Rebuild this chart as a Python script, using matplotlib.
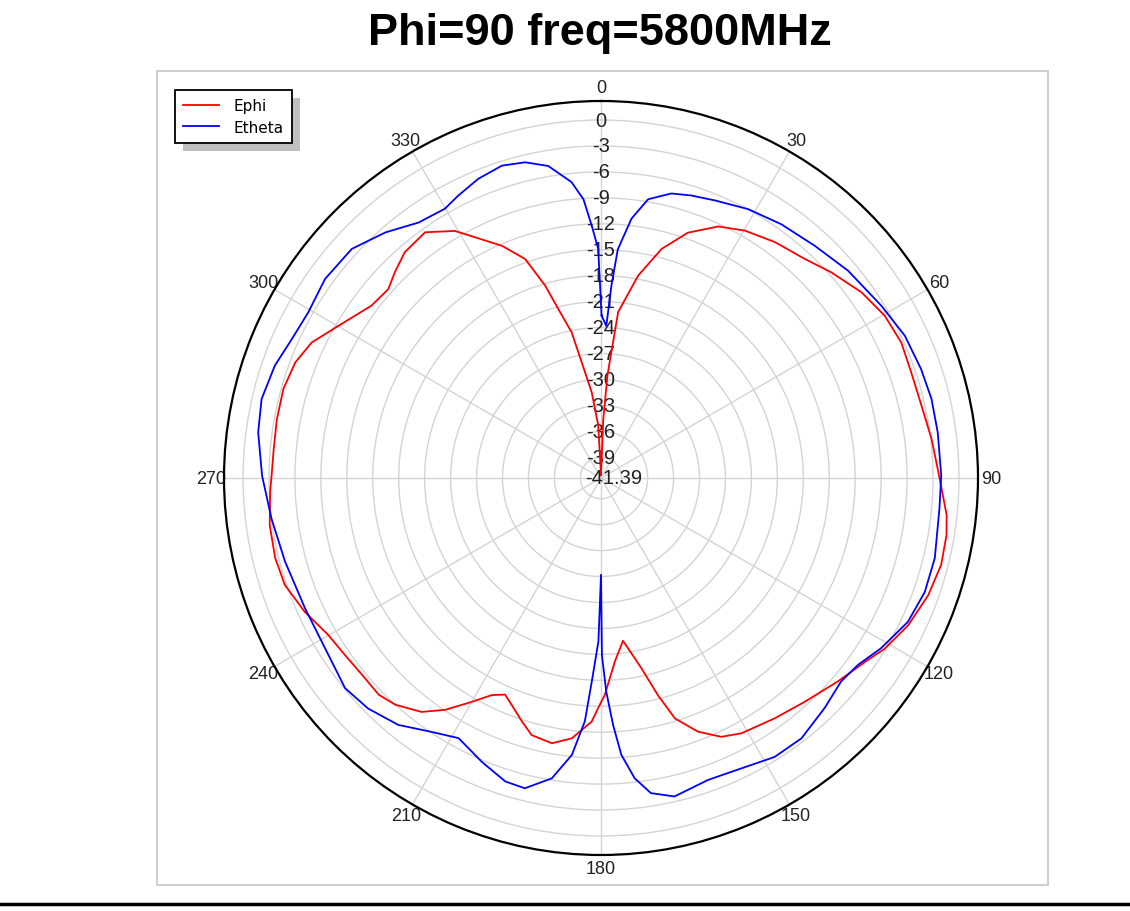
import numpy as np
import matplotlib
matplotlib.use('Agg')
import matplotlib.pyplot as plt
from matplotlib.patches import Rectangle
from matplotlib.lines import Line2D
import matplotlib.transforms as mtransforms

title = "Phi=90 freq=5800MHz"
series_names = ["Ephi", "Etheta"]
series_colors = ["#ff0000", "#0000ff"]

ephi_angle = [0, 2.2, 3.6, 5.9, 10.4, 14.8, 19.5, 25.0, 30.2, 36.4, 42.9, 48.2, 54.5, 60.2,
              65.7, 71.2, 77.3, 83.3, 89.6, 96.1, 99.4, 104.3, 109.7, 115.6, 121.0, 124.9,
              130.7, 137.7, 144.1, 151.2, 155.1, 159.1, 162.9, 165.3, 168.0, 172.3, 175.7,
              179.0, 180.7, 182.2, 186.4, 190.5, 195.1, 198.0, 201.5, 203.9, 206.7, 210.0,
              213.9, 217.5, 222.2, 225.7, 230.5, 235.3, 240.1, 245.7, 251.3, 256.2, 261.9,
              267.6, 270.4, 275.1, 280.3, 285.7, 290.7, 295.1, 300.1, 306.9, 311.6, 315.0,
              319.0, 324.4, 329.4, 336.9, 340.9, 343.8, 345.8, 348.6, 350.5, 353.8, 357.0, 360]
ephi_db = [-41.0, -34.6, -29.5, -22.1, -17.6, -14.0, -11.3, -9.3, -8.3, -7.5, -6.8, -5.7, -4.4,
           -3.6, -3.3, -3.5, -3.4, -2.9, -2.3, -1.2, -0.9, -0.8, -1.2, -2.0, -3.1, -4.2, -5.3,
           -6.4, -7.1, -7.7, -8.4, -10.0, -12.3, -15.4, -18.9, -22.4, -20.1, -16.3, -14.8,
           -13.2, -11.1, -10.2, -10.6, -11.8, -13.2, -14.0, -13.3, -11.5, -9.1, -7.3, -6.0,
           -5.5, -5.6, -5.4, -5.0, -3.8, -2.8, -2.6, -2.7, -3.1, -3.3, -3.4, -3.3, -3.25,
           -3.6, -4.45, -6.3, -8.2, -8.5, -7.7, -6.8, -6.45, -8.2, -12.2, -14.6, -18.2,
           -21.2, -24.2, -27.8, -31.4, -35.3, -41.0]

etheta_angle = [0.2, 2.0, 3.1, 4.2, 6.7, 9.6, 13.9, 17.7, 22.3, 28.7, 35.4, 42.6, 50.0, 58.4,
                64.9, 71.2, 76.5, 82.3, 89.6, 95.1, 103.5, 109.4, 115.1, 121.3, 126.0, 130.3,
                135.8, 142.4, 148.1, 154.2, 160.5, 167.0, 171.0, 173.6, 175.8, 177.2, 178.6,
                179.7, 180.0, 180.9, 182.6, 183.8, 186.0, 189.3, 193.8, 197.5, 202.8, 208.7,
                213.7, 219.4, 225.3, 230.6, 238.3, 246.2, 255.2, 263.0, 270.4, 277.6, 283.1,
                289.0, 294.2, 299.5, 305.8, 312.6, 318.7, 324.5, 329.9, 333.2, 337.7, 342.4,
                346.5, 350.4, 354.3, 356.4, 357.9, 359.3]
etheta_db = [-22.6, -23.8, -19.1, -14.9, -11.2, -8.7, -7.5, -7.1, -6.7, -5.95, -5.4, -4.9,
             -4.1, -3.35, -2.6, -2.3, -2.1, -2.1, -2.05, -2.1, -1.7, -1.7, -2.2, -3.5, -4.65,
             -5.0, -4.3, -3.4, -3.4, -4.1, -4.35, -3.6, -4.5, -6.45, -9.3, -12.8, -16.7, -20.9,
             -30.2, -22.5, -17.8, -13.2, -9.2, -6.2, -4.45, -4.6, -5.8, -7.1, -6.1, -4.45,
             -3.5, -3.1, -3.9, -4.0, -3.6, -3.0, -2.2, -1.4, -1.1, -1.5, -2.2, -2.5, -2.05,
             -2.25, -3.6, -5.1, -5.4, -4.8, -4.0, -3.5, -3.85, -4.8, -7.0, -9.1, -12.2, -14.9]

angle_ticks = list(range(0, 360, 30))
angle_labels = [str(a) for a in angle_ticks]
radial_ticks = [0, -3, -6, -9, -12, -15, -18, -21, -24, -27, -30, -33, -36, -39]
radial_labels = [str(v) for v in radial_ticks]
r_min = -41.39
r_min_label = "-41.39"
r_max = 2.2

W, H = 1130, 912
fig = plt.figure(figsize=(W / 100, H / 100), dpi=100)
fig.patch.set_facecolor('white')

# outer frame box
fig.add_artist(Rectangle((157 / W, 1 - 886 / H), (1048 - 157) / W, (886 - 72) / H,
                         transform=fig.transFigure, fill=False, edgecolor='#d0d0d0',
                         linewidth=1.5, zorder=0))
# bottom black rule
fig.add_artist(Line2D([0, 1], [1 - 905 / H, 1 - 905 / H], transform=fig.transFigure,
                      color='black', linewidth=2.5))

cx, cy, R = 601, 479, 377
ax = fig.add_axes([(cx - R) / W, 1 - (cy + R) / H, 2 * R / W, 2 * R / H], projection='polar')
ax.set_theta_zero_location('N')
ax.set_theta_direction(-1)
ax.set_rlim(r_min, r_max)
ax.set_rticks(radial_ticks)
ax.set_yticklabels([])
ax.set_thetagrids(angle_ticks, angle_labels, fontsize=13, family='Liberation Sans',
                  color='#222222')
ax.tick_params(axis='x', pad=-1)
ax.grid(True, color='#d4d4d4', linewidth=1.0)
ax.spines['polar'].set_color('black')
ax.spines['polar'].set_linewidth(1.6)

for ang, vals, name, col in [(ephi_angle, ephi_db, series_names[0], series_colors[0]),
                             (etheta_angle, etheta_db, series_names[1], series_colors[1])]:
    a = list(ang)
    v = list(vals)
    if a[-1] < 360:
        a = a + [a[0] + 360]
        v = v + [v[0]]
    ax.plot(np.deg2rad(a), v, color=col, linewidth=1.3, label=name, zorder=4)

for val, lab in zip(radial_ticks, radial_labels):
    ax.text(0, val, lab, ha='center', va='center', fontsize=14.5, family='Liberation Sans',
            color='#222222', zorder=3)
off = mtransforms.offset_copy(ax.transData, fig=fig, x=-16, y=0, units='dots')
ax.text(0, r_min, r_min_label, ha='left', va='center', fontsize=14.5,
        family='Liberation Sans', color='#222222', zorder=3, transform=off)

fig.text(600 / W, 1 - 34 / H, title, ha='center', va='center', fontsize=32.5,
         fontweight='bold', family='Liberation Sans')

leg = fig.legend(loc='upper left', bbox_to_anchor=(175 / W, 1 - 91 / H), borderaxespad=0,
                 frameon=True, fancybox=False, edgecolor='black', facecolor='white',
                 framealpha=1.0, fontsize=11, handlelength=2.3, handletextpad=1.0,
                 borderpad=0.55, labelspacing=0.4)
leg.get_frame().set_linewidth(1.3)
leg.set_zorder(6)

fig.canvas.draw()
bb = leg.get_window_extent()
fig.add_artist(Rectangle(((bb.x0 + 8) / W, (bb.y0 - 8) / H), bb.width / W, bb.height / H,
                         transform=fig.transFigure, facecolor='#c0c0c0', edgecolor='none',
                         zorder=5))

fig.savefig('out.png', dpi=100)
